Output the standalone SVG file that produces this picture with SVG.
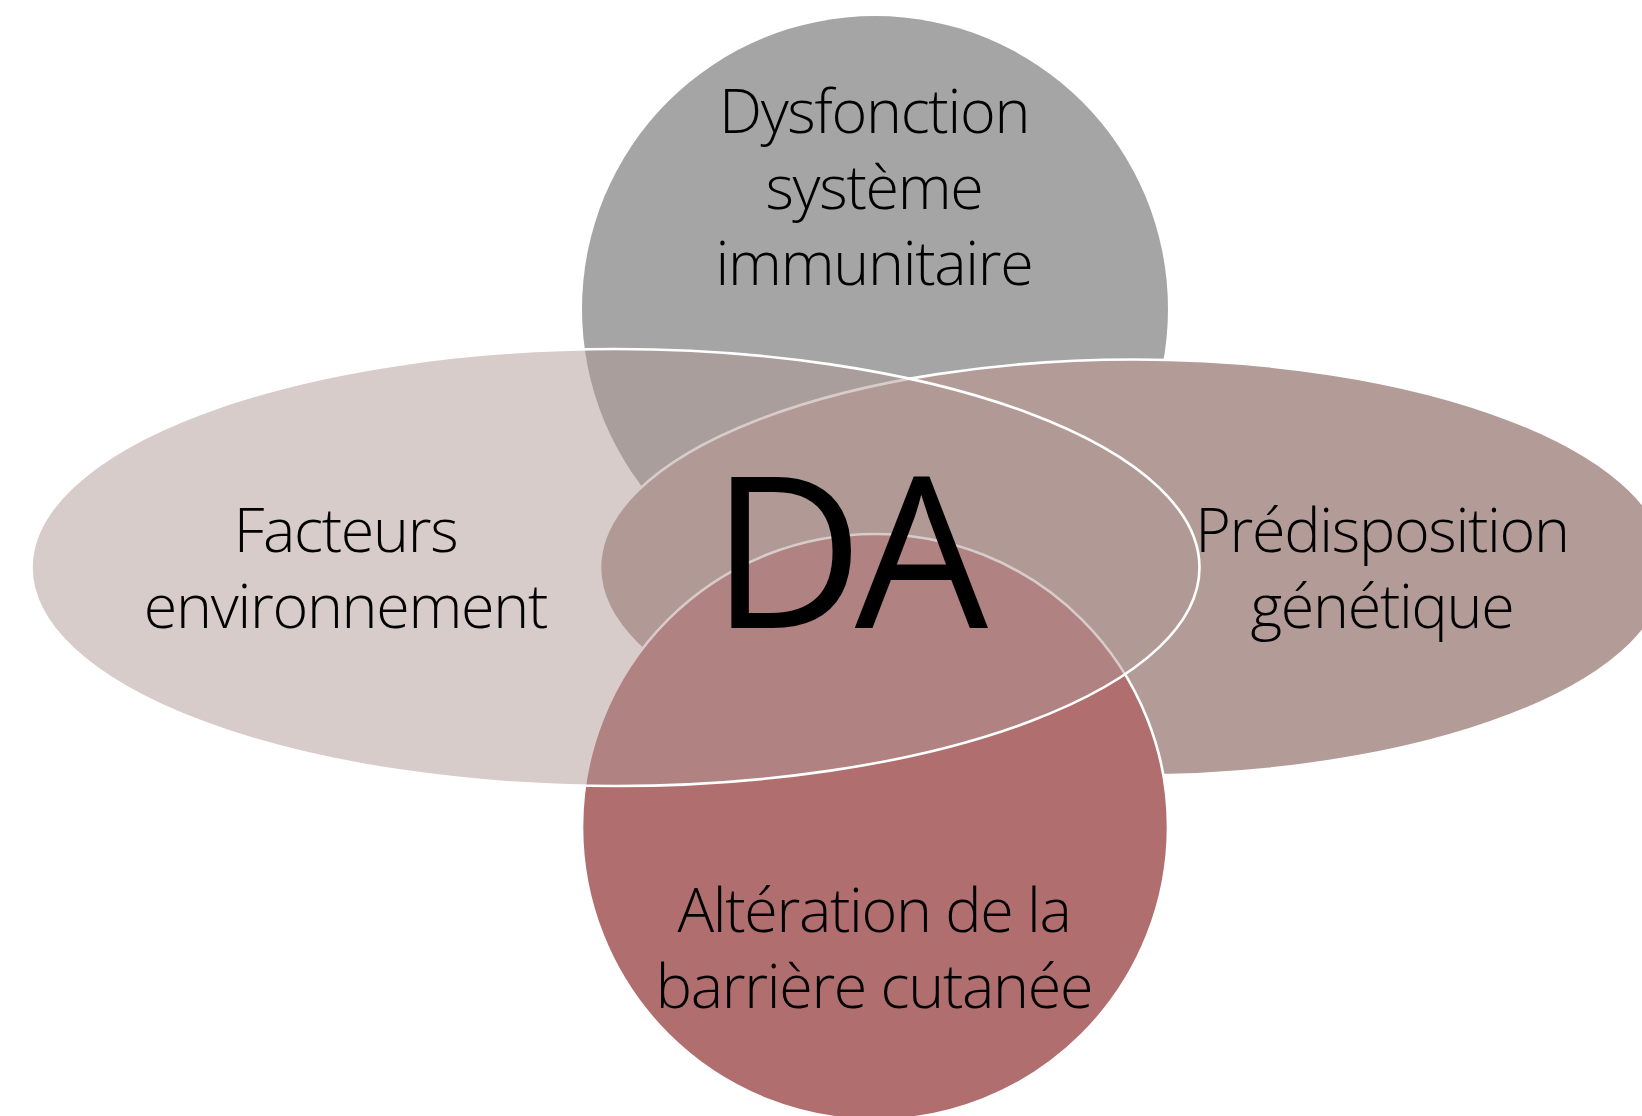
<svg xmlns="http://www.w3.org/2000/svg" width="1642" height="1116" viewBox="0 0 1642 1116">
<style>
.lbl{font-family:"Open Sans","Segoe UI","Noto Sans","Liberation Sans",sans-serif;font-weight:300;font-size:61px;letter-spacing:-1.3px;fill:#000;text-anchor:middle}
.big{font-family:"Open Sans","Segoe UI","Noto Sans","Liberation Sans",sans-serif;font-weight:400;font-size:211px;letter-spacing:-9px;fill:#000;text-anchor:middle}
.edge{stroke:#fff;stroke-width:2.6}
</style>
<rect width="1642" height="1116" fill="#fff"/>
<g id="top-circle">
<circle cx="875" cy="309" r="293" fill="#a5a5a5"/>
</g>
<g id="right-ellipse">
<ellipse class="edge" cx="1134" cy="567.5" rx="534" ry="208" fill="#b39b97"/>
</g>
<g id="bottom-circle">
<circle class="edge" cx="875" cy="827" r="293" fill="#b06e6e"/>
</g>
<g id="left-ellipse">
<ellipse class="edge" cx="615.5" cy="567.5" rx="584" ry="218.5" fill="#b09795" fill-opacity="0.49"/>
</g>
<g id="labels">
<text class="lbl" x="874" y="133">Dysfonction</text>
<text class="lbl" x="874" y="209">système</text>
<text class="lbl" x="874" y="285">immunitaire</text>
<text class="lbl" x="345.5" y="552">Facteurs</text>
<text class="lbl" x="345.5" y="628">environnement</text>
<text class="lbl" x="1382" y="552">Prédisposition</text>
<text class="lbl" x="1382" y="628">génétique</text>
<text class="lbl" x="874" y="932">Altération de la</text>
<text class="lbl" x="874" y="1008">barrière cutanée</text>
<text class="big" x="845" y="628">DA</text>
</g>
</svg>
